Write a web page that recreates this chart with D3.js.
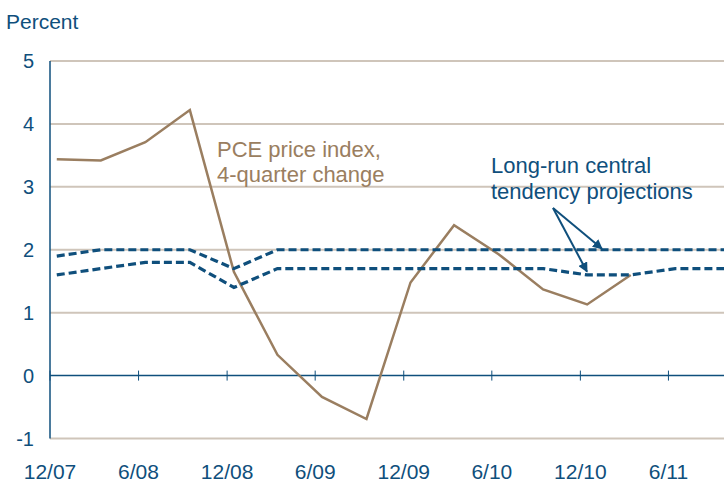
<!DOCTYPE html>
<html>
<head>
<meta charset="utf-8">
<script src="https://cdn.jsdelivr.net/npm/d3@7"></script>
<style>
  body { margin: 0; background: #fff; }
  svg { display: block; font-family: "Liberation Sans", Arial, sans-serif; }
</style>
</head>
<body>
<script>
// quarterly observations (plotted mid-month of the quarter's last month)
const quarters = ['2007-12-15','2008-03-15','2008-06-15','2008-09-15','2008-12-15',
  '2009-03-15','2009-06-15','2009-09-15','2009-12-15','2010-03-15','2010-06-15',
  '2010-09-15','2010-12-15','2011-03-15','2011-06-15','2011-09-15','2011-12-15'];
// PCE price index, 4-quarter change
const pce = [3.44, 3.42, 3.71, 4.22, 1.65, 0.33, -0.34, -0.69, 1.48, 2.39, 1.93, 1.37, 1.13, 1.6];
// long-run central tendency, upper and lower ends
const ctUpper = [1.9, 2.0, 2.0, 2.0, 1.7, 2.0, 2.0, 2.0, 2.0, 2.0, 2.0, 2.0, 2.0, 2.0, 2.0, 2.0, 2.0];
const ctLower = [1.6, 1.7, 1.8, 1.8, 1.4, 1.7, 1.7, 1.7, 1.7, 1.7, 1.7, 1.7, 1.6, 1.6, 1.7, 1.7, 1.7];
const yTicks = [-1, 0, 1, 2, 3, 4, 5];
const xTickLabels = ['12/07','6/08','12/08','6/09','12/09','6/10','12/10','6/11'];

const width = 724, height = 485;
const blue = '#0f4f7c', brown = '#9a7e60', grid = '#cfc5ba';

const parse = d3.timeParse('%Y-%m-%d');
const dates = quarters.map(parse);
const tickDates = xTickLabels.map(s => {
  const p = s.split('/');
  return new Date(2000 + (+p[1]), +p[0] - 1, 1);
});

const x = d3.scaleTime()
  .domain([new Date(2007, 11, 1), new Date(2011, 11, 1)])
  .range([50, 757]);
const y = d3.scaleLinear().domain([-1, 5]).range([438.5, 61]);

const svg = d3.select('body').append('svg')
  .attr('width', width)
  .attr('height', height);

svg.append('defs').append('marker')
  .attr('id', 'arr')
  .attr('viewBox', '0 0 10 10')
  .attr('refX', 9).attr('refY', 5)
  .attr('markerWidth', 5).attr('markerHeight', 5)
  .attr('orient', 'auto')
  .append('path').attr('d', 'M0,0 L10,5 L0,10 Z').attr('fill', blue);

// gridlines (skip zero, drawn as axis)
svg.append('g').selectAll('line')
  .data(yTicks.filter(d => d !== 0))
  .enter().append('line')
  .attr('x1', 50).attr('x2', width)
  .attr('y1', d => y(d)).attr('y2', d => y(d))
  .attr('stroke', grid).attr('stroke-width', 2);

// y labels
svg.append('g').selectAll('text')
  .data(yTicks)
  .enter().append('text')
  .attr('x', 34).attr('y', d => y(d))
  .attr('dy', '0.36em')
  .attr('text-anchor', 'end')
  .attr('font-size', 20)
  .attr('fill', blue)
  .text(d => d);

svg.append('text')
  .attr('x', 6).attr('y', 29)
  .attr('font-size', 21)
  .attr('fill', blue)
  .text('Percent');

// zero axis with ticks
svg.append('line')
  .attr('x1', 50).attr('x2', width)
  .attr('y1', y(0)).attr('y2', y(0))
  .attr('stroke', blue).attr('stroke-width', 1.5);
svg.append('g').selectAll('line')
  .data(tickDates)
  .enter().append('line')
  .attr('x1', d => x(d)).attr('x2', d => x(d))
  .attr('y1', y(0) - 5).attr('y2', y(0) + 5)
  .attr('stroke', blue).attr('stroke-width', 1);

// vertical axis
svg.append('line')
  .attr('x1', 50).attr('x2', 50)
  .attr('y1', y(5)).attr('y2', y(-1))
  .attr('stroke', blue).attr('stroke-width', 1.5);

// x labels
svg.append('g').selectAll('text')
  .data(tickDates)
  .enter().append('text')
  .attr('x', d => x(d)).attr('y', 479)
  .attr('text-anchor', 'middle')
  .attr('font-size', 21)
  .attr('fill', blue)
  .text((d, i) => xTickLabels[i]);

const line = d3.line()
  .x(d => x(d[0]))
  .y(d => y(d[1]));

const plot = svg.append('g');

plot.append('path')
  .datum(pce.map((v, i) => [dates[i], v]))
  .attr('d', line)
  .attr('fill', 'none')
  .attr('stroke', brown)
  .attr('stroke-width', 2.5)
  .attr('stroke-linejoin', 'miter');

[ctUpper, ctLower].forEach(s => {
  plot.append('path')
    .datum(s.map((v, i) => [dates[i], v]))
    .attr('d', line)
    .attr('fill', 'none')
    .attr('stroke', blue)
    .attr('stroke-width', 3.2)
    .attr('stroke-dasharray', '8,4');
});

// annotations
const pceLbl = svg.append('text')
  .attr('font-size', 22)
  .attr('fill', brown);
pceLbl.append('tspan').attr('x', 217).attr('y', 157).text('PCE price index,');
pceLbl.append('tspan').attr('x', 217).attr('y', 182).text('4-quarter change');

const ctLbl = svg.append('text')
  .attr('font-size', 22)
  .attr('fill', blue);
ctLbl.append('tspan').attr('x', 491).attr('y', 173).text('Long-run central');
ctLbl.append('tspan').attr('x', 491).attr('y', 199).text('tendency projections');

const arrowFrom = [553, 208];
const arrowTo = [[602, y(2.0) - 1], [587, y(1.62) - 2]];
arrowTo.forEach(t => {
  svg.append('line')
    .attr('x1', arrowFrom[0]).attr('y1', arrowFrom[1])
    .attr('x2', t[0]).attr('y2', t[1])
    .attr('stroke', blue).attr('stroke-width', 2)
    .attr('marker-end', 'url(#arr)');
});
</script>
</body>
</html>
